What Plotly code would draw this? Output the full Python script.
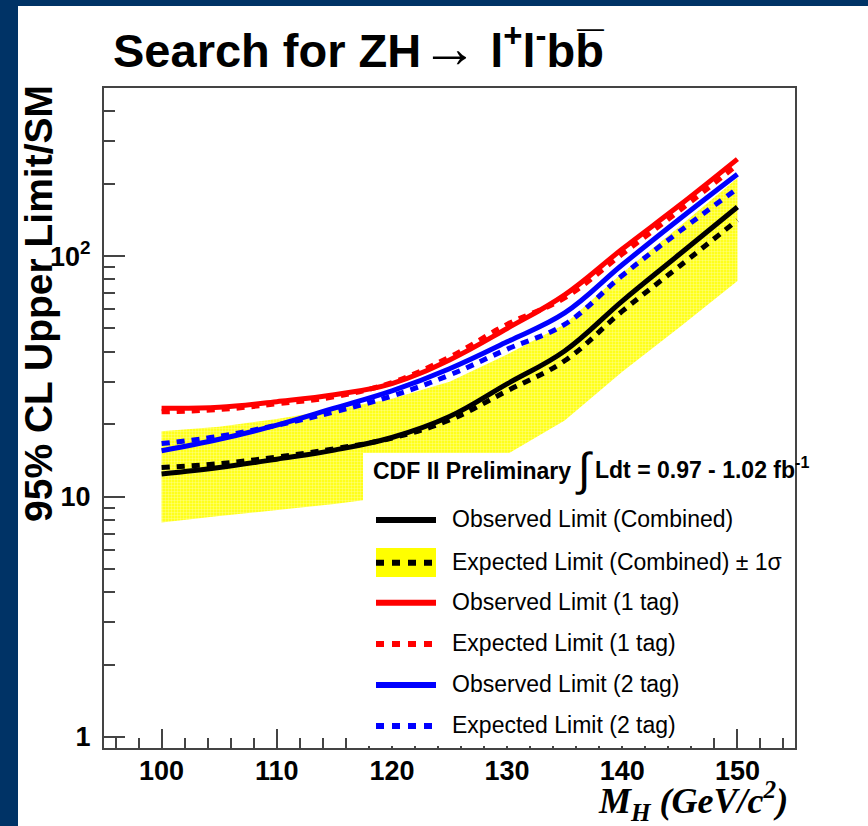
import plotly.graph_objects as go

# Higgs mass points (GeV/c^2)
mass = [100, 105, 110, 115, 120, 125, 130, 135, 140, 145, 150]

# 95% CL upper limits on sigma/sigma_SM
obs_comb = [12.4, 13.2, 14.3, 15.6, 17.6, 21.5, 29.4, 40.3, 65, 102, 160]
exp_comb = [13.2, 13.7, 14.6, 15.8, 17.5, 20.8, 27.5, 36.7, 59, 91, 141]
exp_comb_hi = [18.7, 19.5, 21.0, 23.0, 25.5, 30.0, 39.0, 52.0, 85, 133, 211]
exp_comb_lo = [7.8, 8.3, 8.8, 9.3, 10.0, 11.9, 15.0, 20.7, 33, 50.7, 78.8]
obs_1tag = [23.3, 23.5, 24.8, 26.5, 29.5, 37, 50, 69, 107, 163, 253]
exp_1tag = [22.5, 23.0, 24.3, 26.0, 29.8, 38, 52, 67, 102, 155, 240]
obs_2tag = [15.5, 17.3, 19.8, 23.3, 27.5, 34, 44, 58, 92, 143, 219]
exp_2tag = [16.6, 17.8, 19.8, 22.5, 26.2, 32, 41, 52, 83, 127, 191]

x_major = [100, 110, 120, 130, 140, 150]
x_minor = [96, 98, 102, 104, 106, 108, 112, 114, 116, 118, 122, 124, 126, 128,
           132, 134, 136, 138, 142, 144, 146, 148, 152, 154]
y_major = [1, 10, 100]
y_major_text = ["1", "10", "10<sup>2</sup>"]
y_minor = [2, 3, 4, 5, 6, 7, 8, 9, 20, 30, 40, 50, 60, 70, 80, 90, 200, 300, 400]

legend_labels = [
    "Observed Limit (Combined)",
    "Expected Limit (Combined) \u00b1 1\u03c3",
    "Observed Limit (1 tag)",
    "Expected Limit (1 tag)",
    "Observed Limit (2 tag)",
    "Expected Limit (2 tag)",
]

W_PX, H_PX = 868, 826
L, R, T, B = 104, 795, 88, 748          # frame edges in pixels
PW, PH = R - L, B - T

BLUE_BG = "#003366"
FRAME = "#444444"
YELLOW = "#ffff00"
DOT = "8px,7px"


def fx(px):
    return (px - L) / PW


def fy(py):
    return (B - py) / PH


fig = go.Figure()

# +-1 sigma band around the combined expected limit
fig.add_trace(go.Scatter(
    x=mass + mass[::-1], y=exp_comb_hi + exp_comb_lo[::-1],
    mode="lines", fill="toself", line=dict(width=0),
    fillcolor=YELLOW,
    fillpattern=dict(shape=".", size=3, solidity=0.5,
                     fgcolor="#ffffd8", bgcolor=YELLOW, fillmode="overlay"),
    hoverinfo="skip", showlegend=False))

curves = [
    (exp_comb, "black", DOT),
    (obs_comb, "black", "solid"),
    (exp_2tag, "#0000ff", DOT),
    (obs_2tag, "#0000ff", "solid"),
    (exp_1tag, "#ff0000", DOT),
    (obs_1tag, "#ff0000", "solid"),
]
for vals, col, dash in curves:
    fig.add_trace(go.Scatter(x=mass, y=vals, mode="lines",
                             line=dict(color=col, width=5, dash=dash,
                                       shape="spline", smoothing=1.1),
                             showlegend=False))

shapes = []
# white page with a navy strip on the left and top
shapes.append(dict(type="rect", xref="paper", yref="paper", layer="below",
                   x0=fx(18), x1=fx(W_PX + 5), y0=fy(6), y1=fy(H_PX + 5),
                   fillcolor="white", line=dict(width=0)))
# legend box (white, covers the lower part of the band and the axis ticks)
shapes.append(dict(type="rect", xref="paper", yref="paper", layer="above",
                   x0=fx(363), x1=fx(702), y0=fy(746), y1=fy(453),
                   fillcolor="white", line=dict(width=0)))

annotations = []
row_y = [520, 562.7, 602.7, 644, 685, 726]
styles = [("black", "solid"), ("black", DOT), ("#ff0000", "solid"),
          ("#ff0000", DOT), ("#0000ff", "solid"), ("#0000ff", DOT)]
for i, (lab, (col, dash), yy) in enumerate(zip(legend_labels, styles, row_y)):
    if i == 1:
        shapes.append(dict(type="rect", xref="paper", yref="paper", layer="above",
                           x0=fx(376), x1=fx(436), y0=fy(577), y1=fy(548),
                           fillcolor=YELLOW, line=dict(width=0)))
    shapes.append(dict(type="line", xref="paper", yref="paper", layer="above",
                       x0=fx(376), x1=fx(436), y0=fy(yy), y1=fy(yy),
                       line=dict(color=col, width=6,
                                 dash="8px,8px" if dash != "solid" else "solid")))
    annotations.append(dict(xref="paper", yref="paper", x=fx(450), y=fy(yy - 1),
                            xanchor="left", yanchor="middle", showarrow=False,
                            text=lab,
                            font=dict(family="Liberation Sans", size=23, color="black")))

# luminosity label
annotations.append(dict(xref="paper", yref="paper", x=fx(371), y=fy(471),
                        xanchor="left", yanchor="middle", showarrow=False,
                        text="<b>CDF II Preliminary</b>",
                        font=dict(family="Liberation Sans", size=23, color="black")))
annotations.append(dict(xref="paper", yref="paper", x=fx(584), y=fy(469),
                        xanchor="center", yanchor="middle", showarrow=False,
                        text="\u222b",
                        font=dict(family="Liberation Sans", size=46, color="black")))
annotations.append(dict(xref="paper", yref="paper", x=fx(593), y=fy(468),
                        xanchor="left", yanchor="middle", showarrow=False,
                        text="<b>Ldt = 0.97 - 1.02 fb<sup>-1</sup></b>",
                        font=dict(family="Liberation Sans", size=23, color="black")))

# title
annotations.append(dict(xref="paper", yref="paper", x=fx(111), y=fy(47),
                        xanchor="left", yanchor="middle", showarrow=False,
                        text="<b>Search for ZH<span style='font-size:56px'>\u2192</span>"
                             " l<sup>+</sup>l<sup>-</sup>bb\u0305</b>",
                        font=dict(family="Liberation Sans", size=47, color="black")))
# y-axis title
annotations.append(dict(xref="paper", yref="paper", x=fx(38), y=fy(304),
                        xanchor="center", yanchor="middle", showarrow=False,
                        textangle=-90,
                        text="<b>95% CL Upper Limit/SM</b>",
                        font=dict(family="Liberation Sans", size=39, color="black")))
# x-axis title
annotations.append(dict(xref="paper", yref="paper", x=fx(790), y=fy(801),
                        xanchor="right", yanchor="middle", showarrow=False,
                        text="<b><i>M<sub>H</sub> (GeV/c<sup>2</sup>)</i></b>",
                        font=dict(family="Liberation Serif", size=36, color="black")))

tickfont = dict(family="Liberation Sans", size=27, color="black", weight="bold")

fig.update_layout(
    width=W_PX, height=H_PX,
    margin=dict(l=L, r=W_PX - R, t=T, b=H_PX - B),
    paper_bgcolor=BLUE_BG, plot_bgcolor="white",
    shapes=shapes, annotations=annotations,
    xaxis=dict(range=[95, 155], showgrid=False, zeroline=False,
               showline=True, linecolor=FRAME, linewidth=2, mirror=True,
               tickmode="array", tickvals=x_major, ticks="inside",
               ticklen=19, tickwidth=1.5, tickcolor=FRAME,
               tickfont=tickfont, ticklabelstandoff=-2,
               minor=dict(tickmode="array", tickvals=x_minor, ticks="inside",
                          ticklen=10, tickwidth=1.5, tickcolor=FRAME)),
    yaxis=dict(type="log", range=[-0.0458, 2.699], showgrid=False, zeroline=False,
               showline=True, linecolor=FRAME, linewidth=2, mirror=True,
               tickmode="array", tickvals=y_major, ticktext=y_major_text,
               ticks="inside", ticklen=21, tickwidth=1.5, tickcolor=FRAME,
               tickfont=tickfont, ticklabelstandoff=6,
               minor=dict(tickmode="array", tickvals=y_minor, ticks="inside",
                          ticklen=11, tickwidth=1.5, tickcolor=FRAME)),
)

fig.write_html("out.html")
